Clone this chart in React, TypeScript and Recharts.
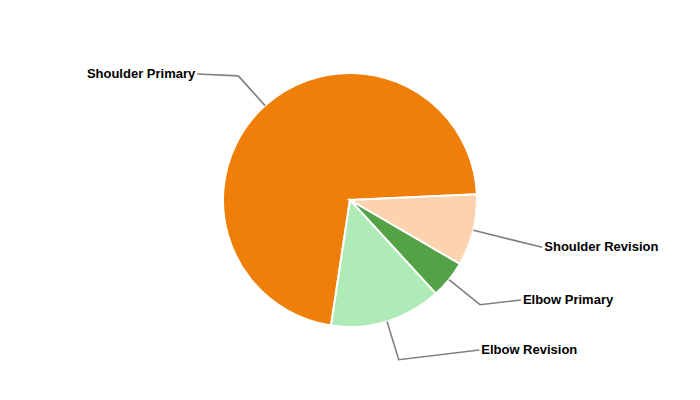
import React from 'react';
import { PieChart, Pie, Cell } from 'recharts';

// Procedure mix
const categories = ['Shoulder Primary', 'Shoulder Revision', 'Elbow Primary', 'Elbow Revision'];
const shares = [71.9, 9.1, 4.8, 14.2];
const colors = ['#f07f09', '#fcd3ae', '#53a245', '#afebb7'];

const data = categories.map((name, i) => ({ name, value: shares[i] }));

const WIDTH = 700;
const HEIGHT = 400;
const OUTER = 127;
const START_ANGLE = 261.4;
const END_ANGLE = START_ANGLE - 360;
const ELBOW = 40; // radial part of the connector
const REACH = 71; // label anchor distance beyond the rim
const SPACING = 50; // minimum vertical gap between labels on one side
const TOP_LIMIT = 126; // highest label position above the centre
const BOTTOM_LIMIT = 150; // lowest label position below the centre

const RAD = Math.PI / 180;

// Mid angle of each slice, laid out the same way the Pie lays out sectors
const total = shares.reduce((a, b) => a + b, 0);
const midAngles: number[] = [];
{
  let acc = START_ANGLE;
  shares.forEach((v) => {
    const span = (v / total) * (END_ANGLE - START_ANGLE);
    midAngles.push(acc + span / 2);
    acc += span;
  });
}

// Vertical label offsets (relative to the centre), pushed apart so they don't collide
const labelLayout = (() => {
  const dys = midAngles.map((m) => -(OUTER + REACH) * Math.sin(m * RAD));
  const sides = midAngles.map((m) => (Math.cos(m * RAD) >= 0 ? 1 : -1));
  [1, -1].forEach((side) => {
    const idx = dys
      .map((_, i) => i)
      .filter((i) => sides[i] === side)
      .sort((a, b) => dys[b] - dys[a]);
    let bottom = BOTTOM_LIMIT;
    idx.forEach((i) => {
      dys[i] = Math.min(dys[i], bottom);
      bottom = dys[i] - SPACING;
    });
    let top = -TOP_LIMIT;
    [...idx].reverse().forEach((i) => {
      dys[i] = Math.max(dys[i], top);
      top = dys[i] + SPACING;
    });
  });
  return { dys, sides };
})();

const renderLabel = (props: any) => {
  const { cx, cy, midAngle, outerRadius, index, name } = props;
  const a = -midAngle * RAD;
  const x0 = cx + outerRadius * Math.cos(a);
  const y0 = cy + outerRadius * Math.sin(a);
  const x1 = cx + (outerRadius + ELBOW) * Math.cos(a);
  const y1 = cy + (outerRadius + ELBOW) * Math.sin(a);
  const side = labelLayout.sides[index];
  const dy = labelLayout.dys[index];
  const r = outerRadius + REACH;
  const x2 = cx + side * Math.sqrt(Math.max(r * r - dy * dy, 0));
  const y2 = cy + dy;
  return (
    <g key={`label-${index}`}>
      <polyline
        points={`${x0},${y0} ${x1},${y1} ${x2},${y2}`}
        fill="none"
        stroke="#808080"
        strokeWidth={1.6}
      />
      <text
        x={x2 + side * 2}
        y={y2 + 4}
        textAnchor={side > 0 ? 'start' : 'end'}
        fontFamily="'Liberation Sans', Arial, sans-serif"
        fontWeight="bold"
        fontSize={13}
        fill="#000"
      >
        {name}
      </text>
    </g>
  );
};

export default function App() {
  return (
    <div style={{ position: 'absolute', left: 0, top: 0, width: WIDTH, height: HEIGHT, background: '#fff' }}>
      <PieChart width={WIDTH} height={HEIGHT} margin={{ top: 0, right: 0, bottom: 0, left: 0 }}>
        <Pie
          data={data}
          dataKey="value"
          nameKey="name"
          cx="50%"
          cy="50%"
          outerRadius={OUTER}
          startAngle={START_ANGLE}
          endAngle={END_ANGLE}
          stroke="#ffffff"
          strokeWidth={2}
          label={renderLabel}
          labelLine={false}
          isAnimationActive={false}
        >
          {data.map((d, i) => (
            <Cell key={d.name} fill={colors[i]} />
          ))}
        </Pie>
      </PieChart>
    </div>
  );
}
